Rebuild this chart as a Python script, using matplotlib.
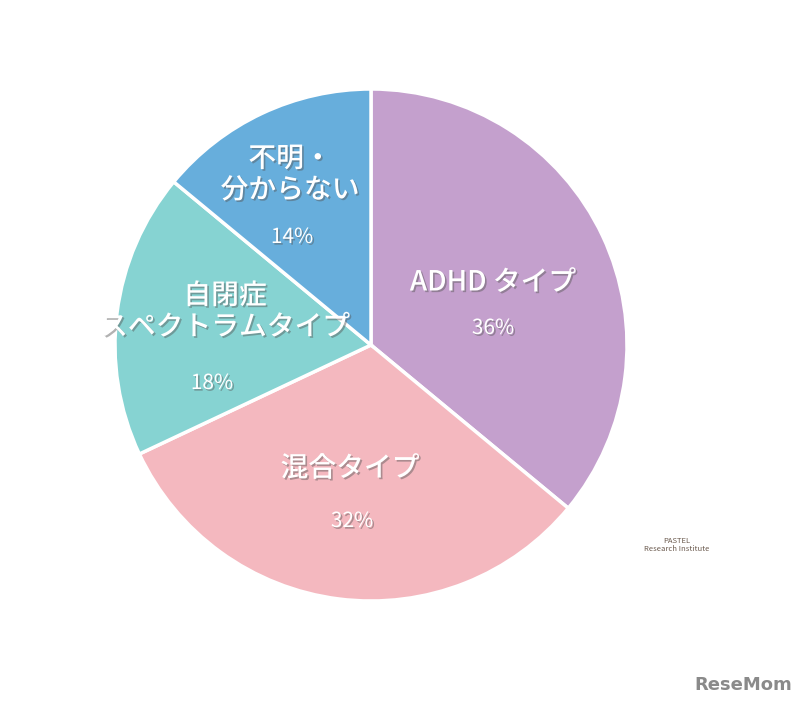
import matplotlib
matplotlib.use("Agg")
import matplotlib.pyplot as plt
import matplotlib.patheffects as pe

plt.rcParams['font.family'] = ['Noto Sans CJK JP', 'DejaVu Sans']

categories = ["ADHD タイプ", "混合タイプ", "自閉症\nスペクトラムタイプ", "不明・\n分からない"]
values = [36, 32, 18, 14]
colors = ["#C4A0CD", "#F4B8BF", "#86D3D2", "#67AEDC"]

W, H = 809, 706
fig = plt.figure(figsize=(W / 100, H / 100), dpi=100)
cx, cy, r = 371, 345, 256
ax = fig.add_axes([(cx - r) / W, (H - cy - r) / H, 2 * r / W, 2 * r / H])
wedges, _ = ax.pie(values, colors=colors, startangle=90, counterclock=False,
                   wedgeprops=dict(edgecolor="white", linewidth=2.5))
ax.set_xlim(-1, 1)
ax.set_ylim(-1, 1)
ax.set_aspect("equal")
ax.axis("off")

shadow = [pe.withSimplePatchShadow(offset=(1.2, -1.2), shadow_rgbFace="#555555", alpha=0.45)]

def px(x, y):
    return (x - cx) / r, (cy - y) / r

label_pos = [(493, 282), (350, 468), (225, 311), (290, 174)]
pct_pos = [(493, 328), (352, 521), (212, 383), (292, 237)]
for cat, v, lp, pp in zip(categories, values, label_pos, pct_pos):
    x, y = px(*lp)
    ax.text(x, y, cat, ha="center", va="center", color="white", fontsize=20,
            fontweight="medium", linespacing=1.1, path_effects=shadow)
    x, y = px(*pp)
    ax.text(x, y, f"{v}%", ha="center", va="center", color="white", fontsize=15,
            path_effects=shadow)

fig.text(677 / W, 1 - 545 / H, "PASTEL\nResearch Institute", ha="center", va="center",
         fontsize=5.5, color="#6b5a4e", linespacing=1.0)
fig.text(743 / W, 1 - 685 / H, "ReseMom", ha="center", va="center",
         fontsize=13, color="#8a8a8a", fontweight="bold", family="DejaVu Sans")

fig.savefig("out.png", dpi=100, facecolor="white")
